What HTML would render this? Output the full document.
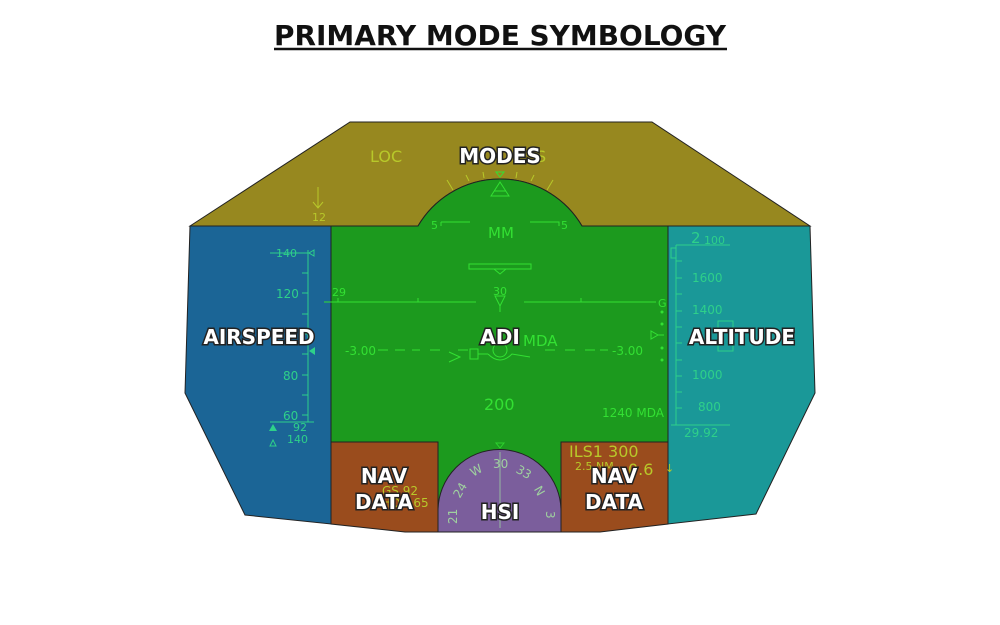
<!DOCTYPE html>
<html><head><meta charset="utf-8"><style>
html,body{margin:0;padding:0;background:#fff;width:1000px;height:625px;overflow:hidden}
svg{display:block}
.lbl{font-family:"DejaVu Sans","Liberation Sans",sans-serif;font-weight:bold;font-size:20px;fill:#fff;stroke:#222;stroke-width:3px;paint-order:stroke;text-anchor:middle}
.g{font-family:"DejaVu Sans","Liberation Sans",sans-serif;fill:#33e033}
.y{fill:#b8c82a}
.c{fill:#2ed08a}
</style></head><body>
<svg width="1000" height="625" viewBox="0 0 1000 625" xmlns="http://www.w3.org/2000/svg">
<text x="500" y="45" text-anchor="middle" font-family="DejaVu Sans,Liberation Sans,sans-serif" font-weight="bold" font-size="28" fill="#111" textLength="452" lengthAdjust="spacingAndGlyphs">PRIMARY MODE SYMBOLOGY</text>
<line x1="274" y1="49" x2="727" y2="49" stroke="#111" stroke-width="2.5"/>

<path d="M190,226 L350,122 L652,122 L810,226 L582,226 A95,95 0 0 0 418,226 Z" fill="#97881f" stroke="#222" stroke-width="1"/>
<path d="M331,226 L418,226 A95,95 0 0 1 582,226 L668,226 L668,442 L561,442 L561,532 L438,532 L438,442 L331,442 Z" fill="#1c9a1e" stroke="#222" stroke-width="1"/>
<path d="M190,226 L331,226 L331,524 L245,515 L185,393 Z" fill="#1b6596" stroke="#222" stroke-width="1"/>
<path d="M668,226 L810,226 L815,393 L756,514 L668,524 Z" fill="#1a9898" stroke="#222" stroke-width="1"/>
<path d="M331,442 L438,442 L438,532 L405,532 L331,524 Z" fill="#9a4c1d" stroke="#222" stroke-width="1"/>
<path d="M561,442 L668,442 L668,524 L600,532 L561,532 Z" fill="#9a4c1d" stroke="#222" stroke-width="1"/>
<path d="M438,532 L438,511 A61.5,61.5 0 0 1 561,511 L561,532 Z" fill="#7b5e9c" stroke="#222" stroke-width="1"/>

<text x="370" y="162" class="g y" font-size="16">LOC</text>
<text x="536" y="162" class="g y" font-size="16">S</text>
<g stroke="#b8c82a" stroke-width="1">
<line x1="318" y1="187" x2="318" y2="208"/><polyline points="313,202 318,208 323,202" fill="none"/>
<line x1="447" y1="180" x2="453" y2="190"/><line x1="466" y1="175" x2="469" y2="181"/><line x1="483" y1="172" x2="484" y2="178"/>
<line x1="553" y1="180" x2="547" y2="190"/><line x1="534" y1="175" x2="531" y2="181"/><line x1="517" y1="172" x2="516" y2="178"/>
</g>
<text x="312" y="221" class="g y" font-size="11">12</text>
<g stroke="#33e033" stroke-width="1" fill="none">
<polygon points="496,172 504,172 500,177"/>
<polygon points="500,182 491,196 509,196"/><line x1="494" y1="191" x2="506" y2="191"/>
<polyline points="441,222 470,222"/><polyline points="530,222 559,222 559,226"/><line x1="441" y1="222" x2="441" y2="226"/>
<rect x="469" y="264" width="62" height="5"/><polyline points="494,269 500,274 506,269"/>
<line x1="324" y1="302" x2="476" y2="302"/><line x1="524" y1="302" x2="656" y2="302"/>
<line x1="338" y1="298" x2="338" y2="302"/><line x1="418" y1="298" x2="418" y2="302"/><line x1="581" y1="298" x2="581" y2="302"/>
<polygon points="495,296 505,296 500,306"/><line x1="500" y1="306" x2="500" y2="312"/>
<path d="M378,350 h10 M395,350 h10 M412,350 h8 M430,350 h10 M458,350 h10 M545,350 h10 M565,350 h10 M585,350 h10 M600,350 h8" />
<polyline points="449,352 460,357 449,362"/>
<rect x="470" y="349" width="8" height="10"/><line x1="478" y1="354" x2="488" y2="354"/>
<circle cx="500" cy="350" r="7"/><path d="M488,354 Q500,366 512,354 L530,357"/>
<polygon points="651,331 651,339 658,335"/><line x1="658" y1="335" x2="664" y2="335"/>
</g>
<text x="431" y="229" class="g" font-size="11">5</text>
<text x="561" y="229" class="g" font-size="11">5</text>
<text x="488" y="238" class="g" font-size="15">MM</text>
<text x="332" y="296" class="g" font-size="11">29</text>
<text x="493" y="295" class="g" font-size="11">30</text>
<text x="658" y="307" class="g" font-size="11">G</text>
<text x="345" y="355" class="g" font-size="12">-3.00</text>
<text x="612" y="355" class="g" font-size="12">-3.00</text>
<text x="523" y="346" class="g" font-size="15">MDA</text>
<text x="484" y="410" class="g" font-size="16">200</text>
<text x="602" y="417" class="g" font-size="12">1240 MDA</text>
<g fill="#33e033"><circle cx="662" cy="312" r="1.5"/><circle cx="662" cy="324" r="1.5"/><circle cx="662" cy="348" r="1.5"/><circle cx="662" cy="360" r="1.5"/></g>

<g stroke="#2ed08a" stroke-width="1" fill="none">
<line x1="308" y1="250" x2="308" y2="422"/>
<line x1="270" y1="253" x2="308" y2="253"/><line x1="270" y1="422" x2="314" y2="422"/>
<path d="M302,273h6 M302,293h6 M302,314h6 M302,334h6 M302,354h6 M302,375h6 M302,395h6 M302,415h6"/>
<polygon points="314,250 309,253 314,256"/>
<polygon points="273,440 270,446 276,446"/>
</g>
<polygon points="315,347 309,351 315,355" fill="#2ed08a"/>
<polygon points="273,424 269,431 277,431" fill="#2ed08a"/>
<text x="276" y="257" class="g c" font-size="11">140</text>
<text x="276" y="298" class="g c" font-size="12">120</text>
<text x="283" y="380" class="g c" font-size="12">80</text>
<text x="283" y="420" class="g c" font-size="12">60</text>
<text x="293" y="431" class="g c" font-size="11">92</text>
<text x="287" y="443" class="g c" font-size="11">140</text>

<g stroke="#2ed08a" stroke-width="1" fill="none">
<line x1="676" y1="245" x2="676" y2="425"/>
<line x1="676" y1="245" x2="730" y2="245"/><line x1="671" y1="425" x2="730" y2="425"/>
<path d="M676,261h6 M676,278h6 M676,294h6 M676,311h6 M676,327h6 M676,343h6 M676,360h6 M676,376h6 M676,392h6 M676,408h6"/>
<rect x="718" y="321" width="15" height="30"/>
<rect x="671" y="248" width="5" height="10"/>
</g>
<text x="691" y="243" class="g c" font-size="15">2</text>
<text x="704" y="244" class="g c" font-size="11">100</text>
<text x="692" y="282" class="g c" font-size="12">1600</text>
<text x="692" y="314" class="g c" font-size="12">1400</text>
<text x="692" y="379" class="g c" font-size="12">1000</text>
<text x="698" y="411" class="g c" font-size="12">800</text>
<text x="684" y="437" class="g c" font-size="12">29.92</text>

<text x="569" y="457" class="g y" font-size="16">ILS1 300</text>
<text x="575" y="470" class="g y" font-size="11">2.5 NM</text>
<text x="628" y="475" class="g y" font-size="16">0.6</text>
<text x="665" y="472" class="g y" font-size="11">↓</text>
<text x="382" y="495" class="g y" font-size="12">GS 92</text>
<text x="382" y="507" class="g y" font-size="12">HDG 65</text>

<g stroke="#9ccfa0" stroke-width="1" fill="none" opacity="0.8">
<line x1="500" y1="452" x2="500" y2="528"/>
<polygon points="496,443 504,443 500,448" stroke="#33e033"/>
</g>
<g font-family="DejaVu Sans,sans-serif" font-size="12" fill="#9fd09f">
<text x="493" y="468">30</text><text x="517" y="475" transform="rotate(30 522 470)">33</text>
<text x="470" y="475" transform="rotate(-30 475 470)">W</text>
<text x="536" y="495" transform="rotate(60 540 490)">N</text>
<text x="453" y="497" transform="rotate(-60 458 492)">24</text>
<text x="546" y="519" transform="rotate(90 550 515)">3</text>
<text x="444" y="521" transform="rotate(-90 452 516)">21</text>
</g>

<text x="500" y="163" class="lbl">MODES</text>
<text x="259" y="344" class="lbl">AIRSPEED</text>
<text x="500" y="344" class="lbl">ADI</text>
<text x="742" y="344" class="lbl">ALTITUDE</text>
<text x="384" y="483" class="lbl">NAV</text>
<text x="384" y="509" class="lbl">DATA</text>
<text x="614" y="483" class="lbl">NAV</text>
<text x="614" y="509" class="lbl">DATA</text>
<text x="500" y="519" class="lbl">HSI</text>
</svg>
</body></html>
